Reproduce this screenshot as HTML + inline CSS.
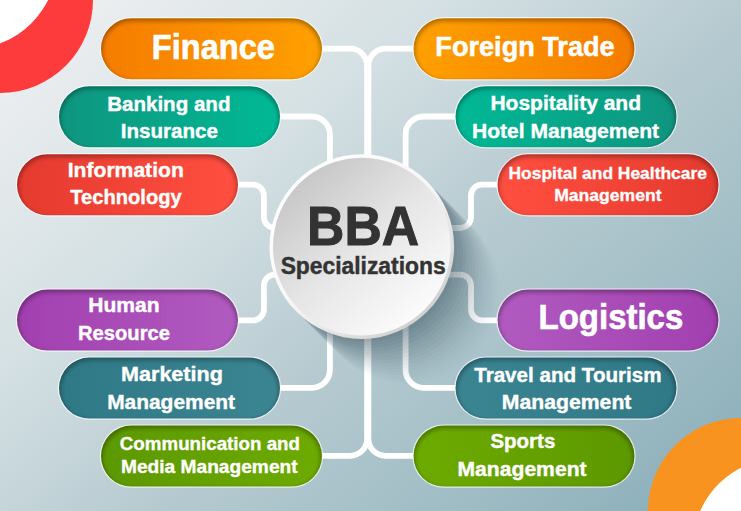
<!DOCTYPE html>
<html lang="en"><head><meta charset="utf-8"><title>BBA Specializations</title>
<style>
html,body{margin:0;padding:0;background:#fff}
svg{display:block}
text{font-family:"Liberation Sans",sans-serif;font-weight:700}
</style></head><body>
<svg width="741" height="511" viewBox="0 0 741 511">
<defs>
<linearGradient id="bg" gradientUnits="userSpaceOnUse" x1="0" y1="0" x2="558" y2="665">
<stop offset="0" stop-color="#f1f2f2"/><stop offset="0.1" stop-color="#e9ecee"/><stop offset="0.33" stop-color="#d4e0e3"/><stop offset="0.45" stop-color="#c5d5da"/><stop offset="0.55" stop-color="#b7cbd1"/><stop offset="0.77" stop-color="#a1bdc5"/><stop offset="0.92" stop-color="#90b2bc"/><stop offset="1" stop-color="#89adb8"/></linearGradient>
<linearGradient id="or" x1="0" y1="0" x2="1" y2="0"><stop offset="0" stop-color="#f57c00"/><stop offset="1" stop-color="#ffa000"/></linearGradient>
<linearGradient id="or2" x1="0" y1="0" x2="1" y2="0"><stop offset="0" stop-color="#ffa000"/><stop offset="1" stop-color="#f57c00"/></linearGradient>
<linearGradient id="tl" x1="0" y1="0" x2="1" y2="0"><stop offset="0" stop-color="#0f957f"/><stop offset="1" stop-color="#00b995"/></linearGradient>
<linearGradient id="tl2" x1="0" y1="0" x2="1" y2="0"><stop offset="0" stop-color="#00b995"/><stop offset="1" stop-color="#0f957f"/></linearGradient>
<linearGradient id="rd" x1="0" y1="0" x2="1" y2="0"><stop offset="0" stop-color="#e53a2f"/><stop offset="1" stop-color="#ff4f40"/></linearGradient>
<linearGradient id="rd2" x1="0" y1="0" x2="1" y2="0"><stop offset="0" stop-color="#ff4f40"/><stop offset="1" stop-color="#e53a2f"/></linearGradient>
<linearGradient id="pu" x1="0" y1="0" x2="1" y2="0"><stop offset="0" stop-color="#a23fb0"/><stop offset="1" stop-color="#b15bc0"/></linearGradient>
<linearGradient id="pu2" x1="0" y1="0" x2="1" y2="0"><stop offset="0" stop-color="#b15bc0"/><stop offset="1" stop-color="#a23fb0"/></linearGradient>
<linearGradient id="dt" x1="0" y1="0" x2="1" y2="0"><stop offset="0" stop-color="#2f7886"/><stop offset="1" stop-color="#3b8593"/></linearGradient>
<linearGradient id="dt2" x1="0" y1="0" x2="1" y2="0"><stop offset="0" stop-color="#3b8593"/><stop offset="1" stop-color="#2f7886"/></linearGradient>
<linearGradient id="gn" x1="0" y1="0" x2="1" y2="0"><stop offset="0" stop-color="#5c9800"/><stop offset="1" stop-color="#6dab00"/></linearGradient>
<linearGradient id="gn2" x1="0" y1="0" x2="1" y2="0"><stop offset="0" stop-color="#6dab00"/><stop offset="1" stop-color="#5c9800"/></linearGradient>
<linearGradient id="cg" x1="0.15" y1="0.1" x2="0.85" y2="0.9"><stop offset="0" stop-color="#c6c6c6"/><stop offset="0.5" stop-color="#e6e6e6"/><stop offset="1" stop-color="#fcfcfc"/></linearGradient>
<linearGradient id="rim" x1="0.15" y1="0.1" x2="0.85" y2="0.9"><stop offset="0" stop-color="#ffffff"/><stop offset="0.5" stop-color="#f6f6f6"/><stop offset="1" stop-color="#cfcfcf"/></linearGradient>
<clipPath id="pc"><path d="M30.5,0H190.5A30.5,30.5 0 0 1 190.5,61H30.5A30.5,30.5 0 0 1 30.5,0Z"/></clipPath>
<filter id="b2" x="-20%" y="-50%" width="140%" height="200%"><feGaussianBlur stdDeviation="1.9"/></filter>
</defs>
<rect width="741" height="511" fill="url(#bg)"/>
<circle cx="0" cy="0" r="93" fill="#fd3a3c"/><circle cx="-30.9" cy="-39.2" r="88.2" fill="#fff"/>
<circle cx="741" cy="511" r="93" fill="#f7931e"/><circle cx="780" cy="545.6" r="87" fill="#fff"/>

<g fill="none" stroke="#fff" stroke-width="5.8">
<path d="M318.00,48.7 H350.10 A17,17 0 0 1 367.10,65.7 V200"/>
<path d="M276.00,116.5 H311.90 A18,18 0 0 1 329.90,134.5 V200"/>
<path d="M234.00,184.6 H252.90 A11,11 0 0 1 263.90,195.6 V217.0 A11,11 0 0 0 274.90,228.0 H300.00"/>
<path d="M234.00,320.3 H252.90 A11,11 0 0 0 263.90,309.3 V285.6 A11,11 0 0 1 274.90,274.6 H300.00"/>
<path d="M276.00,387.8 H311.90 A18,18 0 0 0 329.90,369.8 V300"/>
<path d="M318.00,455.8 H350.10 A17,17 0 0 0 367.10,438.8 V300"/>
<path d="M417.50,48.7 H385.40 A17,17 0 0 0 368.40,65.7 V200"/>
<path d="M459.50,116.5 H423.60 A18,18 0 0 0 405.60,134.5 V200"/>
<path d="M501.50,184.6 H482.00 A11,11 0 0 0 471.00,195.6 V217.0 A11,11 0 0 1 460.00,228.0 H435.50"/>
<path d="M501.50,320.3 H482.00 A11,11 0 0 1 471.00,309.3 V285.6 A11,11 0 0 0 460.00,274.6 H435.50"/>
<path d="M459.50,387.8 H423.60 A18,18 0 0 1 405.60,369.8 V300"/>
<path d="M417.50,455.8 H385.40 A17,17 0 0 1 368.40,438.8 V300"/>
</g>
<g fill="#1f3f4a">
<circle cx="364.80" cy="249.60" r="92.3" fill-opacity="0.0584"/>
<circle cx="367.80" cy="252.60" r="92.3" fill-opacity="0.0547"/>
<circle cx="370.80" cy="255.60" r="92.3" fill-opacity="0.0511"/>
<circle cx="373.80" cy="258.60" r="92.3" fill-opacity="0.0474"/>
<circle cx="376.80" cy="261.60" r="92.3" fill-opacity="0.0438"/>
<circle cx="379.80" cy="264.60" r="92.3" fill-opacity="0.0401"/>
<circle cx="382.80" cy="267.60" r="92.3" fill-opacity="0.0365"/>
<circle cx="385.80" cy="270.60" r="92.3" fill-opacity="0.0328"/>
<circle cx="388.80" cy="273.60" r="92.3" fill-opacity="0.0292"/>
<circle cx="391.80" cy="276.60" r="92.3" fill-opacity="0.0255"/>
<circle cx="394.80" cy="279.60" r="92.3" fill-opacity="0.0219"/>
<circle cx="397.80" cy="282.60" r="92.3" fill-opacity="0.0182"/>
<circle cx="400.80" cy="285.60" r="92.3" fill-opacity="0.0146"/>
<circle cx="403.80" cy="288.60" r="92.3" fill-opacity="0.0109"/>
<circle cx="406.80" cy="291.60" r="92.3" fill-opacity="0.0073"/>
<circle cx="409.80" cy="294.60" r="92.3" fill-opacity="0.0036"/>
</g>
<circle cx="361.8" cy="246.6" r="92.3" fill="url(#rim)"/>
<circle cx="361.8" cy="246.6" r="88.8" fill="url(#cg)"/>
<g transform="translate(101,18.2)">
<rect x="-1.2" y="-1.2" width="223.4" height="63.4" rx="31.7" fill="#fff" fill-opacity="0.7"/>
<path d="M30.5,0H190.5A30.5,30.5 0 0 1 190.5,61H30.5A30.5,30.5 0 0 1 30.5,0Z" fill="url(#or)"/>
<g clip-path="url(#pc)"><path d="M-30,-30H251V91H-30Z M31.35,3.0H189.65A29.75,29.75 0 0 1 189.65,62.5H31.35A29.75,29.75 0 0 1 31.35,3.0Z" fill-rule="evenodd" fill="#000" fill-opacity="0.30" filter="url(#b2)"/></g>
</g>
<g transform="translate(59,86.2)">
<rect x="-1.2" y="-1.2" width="223.4" height="63.4" rx="31.7" fill="#fff" fill-opacity="0.7"/>
<path d="M30.5,0H190.5A30.5,30.5 0 0 1 190.5,61H30.5A30.5,30.5 0 0 1 30.5,0Z" fill="url(#tl)"/>
<g clip-path="url(#pc)"><path d="M-30,-30H251V91H-30Z M31.35,3.0H189.65A29.75,29.75 0 0 1 189.65,62.5H31.35A29.75,29.75 0 0 1 31.35,3.0Z" fill-rule="evenodd" fill="#000" fill-opacity="0.30" filter="url(#b2)"/></g>
</g>
<g transform="translate(17,154.3)">
<rect x="-1.2" y="-1.2" width="223.4" height="63.4" rx="31.7" fill="#fff" fill-opacity="0.7"/>
<path d="M30.5,0H190.5A30.5,30.5 0 0 1 190.5,61H30.5A30.5,30.5 0 0 1 30.5,0Z" fill="url(#rd)"/>
<g clip-path="url(#pc)"><path d="M-30,-30H251V91H-30Z M31.35,3.0H189.65A29.75,29.75 0 0 1 189.65,62.5H31.35A29.75,29.75 0 0 1 31.35,3.0Z" fill-rule="evenodd" fill="#000" fill-opacity="0.30" filter="url(#b2)"/></g>
</g>
<g transform="translate(17,289.6)">
<rect x="-1.2" y="-1.2" width="223.4" height="63.4" rx="31.7" fill="#fff" fill-opacity="0.7"/>
<path d="M30.5,0H190.5A30.5,30.5 0 0 1 190.5,61H30.5A30.5,30.5 0 0 1 30.5,0Z" fill="url(#pu)"/>
<g clip-path="url(#pc)"><path d="M-30,-30H251V91H-30Z M31.35,3.0H189.65A29.75,29.75 0 0 1 189.65,62.5H31.35A29.75,29.75 0 0 1 31.35,3.0Z" fill-rule="evenodd" fill="#000" fill-opacity="0.30" filter="url(#b2)"/></g>
</g>
<g transform="translate(59,357.6)">
<rect x="-1.2" y="-1.2" width="223.4" height="63.4" rx="31.7" fill="#fff" fill-opacity="0.7"/>
<path d="M30.5,0H190.5A30.5,30.5 0 0 1 190.5,61H30.5A30.5,30.5 0 0 1 30.5,0Z" fill="url(#dt)"/>
<g clip-path="url(#pc)"><path d="M-30,-30H251V91H-30Z M31.35,3.0H189.65A29.75,29.75 0 0 1 189.65,62.5H31.35A29.75,29.75 0 0 1 31.35,3.0Z" fill-rule="evenodd" fill="#000" fill-opacity="0.30" filter="url(#b2)"/></g>
</g>
<g transform="translate(101,425.6)">
<rect x="-1.2" y="-1.2" width="223.4" height="63.4" rx="31.7" fill="#fff" fill-opacity="0.7"/>
<path d="M30.5,0H190.5A30.5,30.5 0 0 1 190.5,61H30.5A30.5,30.5 0 0 1 30.5,0Z" fill="url(#gn)"/>
<g clip-path="url(#pc)"><path d="M-30,-30H251V91H-30Z M31.35,3.0H189.65A29.75,29.75 0 0 1 189.65,62.5H31.35A29.75,29.75 0 0 1 31.35,3.0Z" fill-rule="evenodd" fill="#000" fill-opacity="0.30" filter="url(#b2)"/></g>
</g>
<g transform="translate(413.5,18.2)">
<rect x="-1.2" y="-1.2" width="223.4" height="63.4" rx="31.7" fill="#fff" fill-opacity="0.7"/>
<path d="M30.5,0H190.5A30.5,30.5 0 0 1 190.5,61H30.5A30.5,30.5 0 0 1 30.5,0Z" fill="url(#or2)"/>
<g clip-path="url(#pc)"><path d="M-30,-30H251V91H-30Z M31.35,3.0H189.65A29.75,29.75 0 0 1 189.65,62.5H31.35A29.75,29.75 0 0 1 31.35,3.0Z" fill-rule="evenodd" fill="#000" fill-opacity="0.30" filter="url(#b2)"/></g>
</g>
<g transform="translate(455.5,86.2)">
<rect x="-1.2" y="-1.2" width="223.4" height="63.4" rx="31.7" fill="#fff" fill-opacity="0.7"/>
<path d="M30.5,0H190.5A30.5,30.5 0 0 1 190.5,61H30.5A30.5,30.5 0 0 1 30.5,0Z" fill="url(#tl2)"/>
<g clip-path="url(#pc)"><path d="M-30,-30H251V91H-30Z M31.35,3.0H189.65A29.75,29.75 0 0 1 189.65,62.5H31.35A29.75,29.75 0 0 1 31.35,3.0Z" fill-rule="evenodd" fill="#000" fill-opacity="0.30" filter="url(#b2)"/></g>
</g>
<g transform="translate(497.5,154.3)">
<rect x="-1.2" y="-1.2" width="223.4" height="63.4" rx="31.7" fill="#fff" fill-opacity="0.7"/>
<path d="M30.5,0H190.5A30.5,30.5 0 0 1 190.5,61H30.5A30.5,30.5 0 0 1 30.5,0Z" fill="url(#rd2)"/>
<g clip-path="url(#pc)"><path d="M-30,-30H251V91H-30Z M31.35,3.0H189.65A29.75,29.75 0 0 1 189.65,62.5H31.35A29.75,29.75 0 0 1 31.35,3.0Z" fill-rule="evenodd" fill="#000" fill-opacity="0.30" filter="url(#b2)"/></g>
</g>
<g transform="translate(497.5,289.6)">
<rect x="-1.2" y="-1.2" width="223.4" height="63.4" rx="31.7" fill="#fff" fill-opacity="0.7"/>
<path d="M30.5,0H190.5A30.5,30.5 0 0 1 190.5,61H30.5A30.5,30.5 0 0 1 30.5,0Z" fill="url(#pu2)"/>
<g clip-path="url(#pc)"><path d="M-30,-30H251V91H-30Z M31.35,3.0H189.65A29.75,29.75 0 0 1 189.65,62.5H31.35A29.75,29.75 0 0 1 31.35,3.0Z" fill-rule="evenodd" fill="#000" fill-opacity="0.30" filter="url(#b2)"/></g>
</g>
<g transform="translate(455.5,357.6)">
<rect x="-1.2" y="-1.2" width="223.4" height="63.4" rx="31.7" fill="#fff" fill-opacity="0.7"/>
<path d="M30.5,0H190.5A30.5,30.5 0 0 1 190.5,61H30.5A30.5,30.5 0 0 1 30.5,0Z" fill="url(#dt2)"/>
<g clip-path="url(#pc)"><path d="M-30,-30H251V91H-30Z M31.35,3.0H189.65A29.75,29.75 0 0 1 189.65,62.5H31.35A29.75,29.75 0 0 1 31.35,3.0Z" fill-rule="evenodd" fill="#000" fill-opacity="0.30" filter="url(#b2)"/></g>
</g>
<g transform="translate(413.5,425.6)">
<rect x="-1.2" y="-1.2" width="223.4" height="63.4" rx="31.7" fill="#fff" fill-opacity="0.7"/>
<path d="M30.5,0H190.5A30.5,30.5 0 0 1 190.5,61H30.5A30.5,30.5 0 0 1 30.5,0Z" fill="url(#gn2)"/>
<g clip-path="url(#pc)"><path d="M-30,-30H251V91H-30Z M31.35,3.0H189.65A29.75,29.75 0 0 1 189.65,62.5H31.35A29.75,29.75 0 0 1 31.35,3.0Z" fill-rule="evenodd" fill="#000" fill-opacity="0.30" filter="url(#b2)"/></g>
</g>
<text transform="translate(151.84,58.78) scale(0.9421,1)" font-size="34.58" fill="#fff" stroke="#fff" stroke-width="0.64">Finance</text>
<text transform="translate(107.15,111.11) scale(0.9779,1)" font-size="21.03" fill="#fff" stroke="#fff" stroke-width="0.39">Banking and</text>
<text transform="translate(120.75,138.31) scale(0.9779,1)" font-size="21.03" fill="#fff" stroke="#fff" stroke-width="0.39">Insurance</text>
<text transform="translate(67.72,176.61) scale(1.0042,1)" font-size="21.03" fill="#fff" stroke="#fff" stroke-width="0.39">Information</text>
<text transform="translate(70.19,204.31) scale(0.9588,1)" font-size="21.03" fill="#fff" stroke="#fff" stroke-width="0.39">Technology</text>
<text transform="translate(88.22,312.01) scale(1.0022,1)" font-size="21.03" fill="#fff" stroke="#fff" stroke-width="0.39">Human</text>
<text transform="translate(77.98,339.61) scale(0.9597,1)" font-size="21.03" fill="#fff" stroke="#fff" stroke-width="0.39">Resource</text>
<text transform="translate(121.09,381.11) scale(1.0247,1)" font-size="21.03" fill="#fff" stroke="#fff" stroke-width="0.39">Marketing</text>
<text transform="translate(107.13,408.71) scale(0.9960,1)" font-size="21.03" fill="#fff" stroke="#fff" stroke-width="0.39">Management</text>
<text transform="translate(119.83,449.82) scale(0.9769,1)" font-size="19.20" fill="#fff" stroke="#fff" stroke-width="0.35">Communication and</text>
<text transform="translate(120.94,473.12) scale(0.9983,1)" font-size="19.20" fill="#fff" stroke="#fff" stroke-width="0.35">Media Management</text>
<text transform="translate(435.36,56.34) scale(0.9608,1)" font-size="28.23" fill="#fff" stroke="#fff" stroke-width="0.52">Foreign Trade</text>
<text transform="translate(490.42,110.31) scale(0.9998,1)" font-size="21.03" fill="#fff" stroke="#fff" stroke-width="0.39">Hospitality and</text>
<text transform="translate(472.02,137.71) scale(1.0012,1)" font-size="21.03" fill="#fff" stroke="#fff" stroke-width="0.39">Hotel Management</text>
<text transform="translate(508.54,179.34) scale(1.0117,1)" font-size="17.22" fill="#fff" stroke="#fff" stroke-width="0.32">Hospital and Healthcare</text>
<text transform="translate(554.13,201.14) scale(1.0133,1)" font-size="17.36" fill="#fff" stroke="#fff" stroke-width="0.32">Management</text>
<text transform="translate(538.61,329.28) scale(0.9531,1)" font-size="34.58" fill="#fff" stroke="#fff" stroke-width="0.64">Logistics</text>
<text transform="translate(474.19,382.21) scale(0.9806,1)" font-size="21.03" fill="#fff" stroke="#fff" stroke-width="0.39">Travel and Tourism</text>
<text transform="translate(501.81,408.81) scale(1.0086,1)" font-size="21.03" fill="#fff" stroke="#fff" stroke-width="0.39">Management</text>
<text transform="translate(490.38,447.91) scale(0.9758,1)" font-size="21.03" fill="#fff" stroke="#fff" stroke-width="0.39">Sports</text>
<text transform="translate(457.52,475.71) scale(1.0047,1)" font-size="21.03" fill="#fff" stroke="#fff" stroke-width="0.39">Management</text>
<text transform="translate(307.09,244.79) scale(0.9301,1)" font-size="55.61" fill="#333" stroke="#333" stroke-width="1.03">BBA</text>
<text transform="translate(280.64,274.48) scale(0.9527,1)" font-size="23.99" fill="#333" stroke="#333" stroke-width="0.44">Specializations</text>
</svg></body></html>
